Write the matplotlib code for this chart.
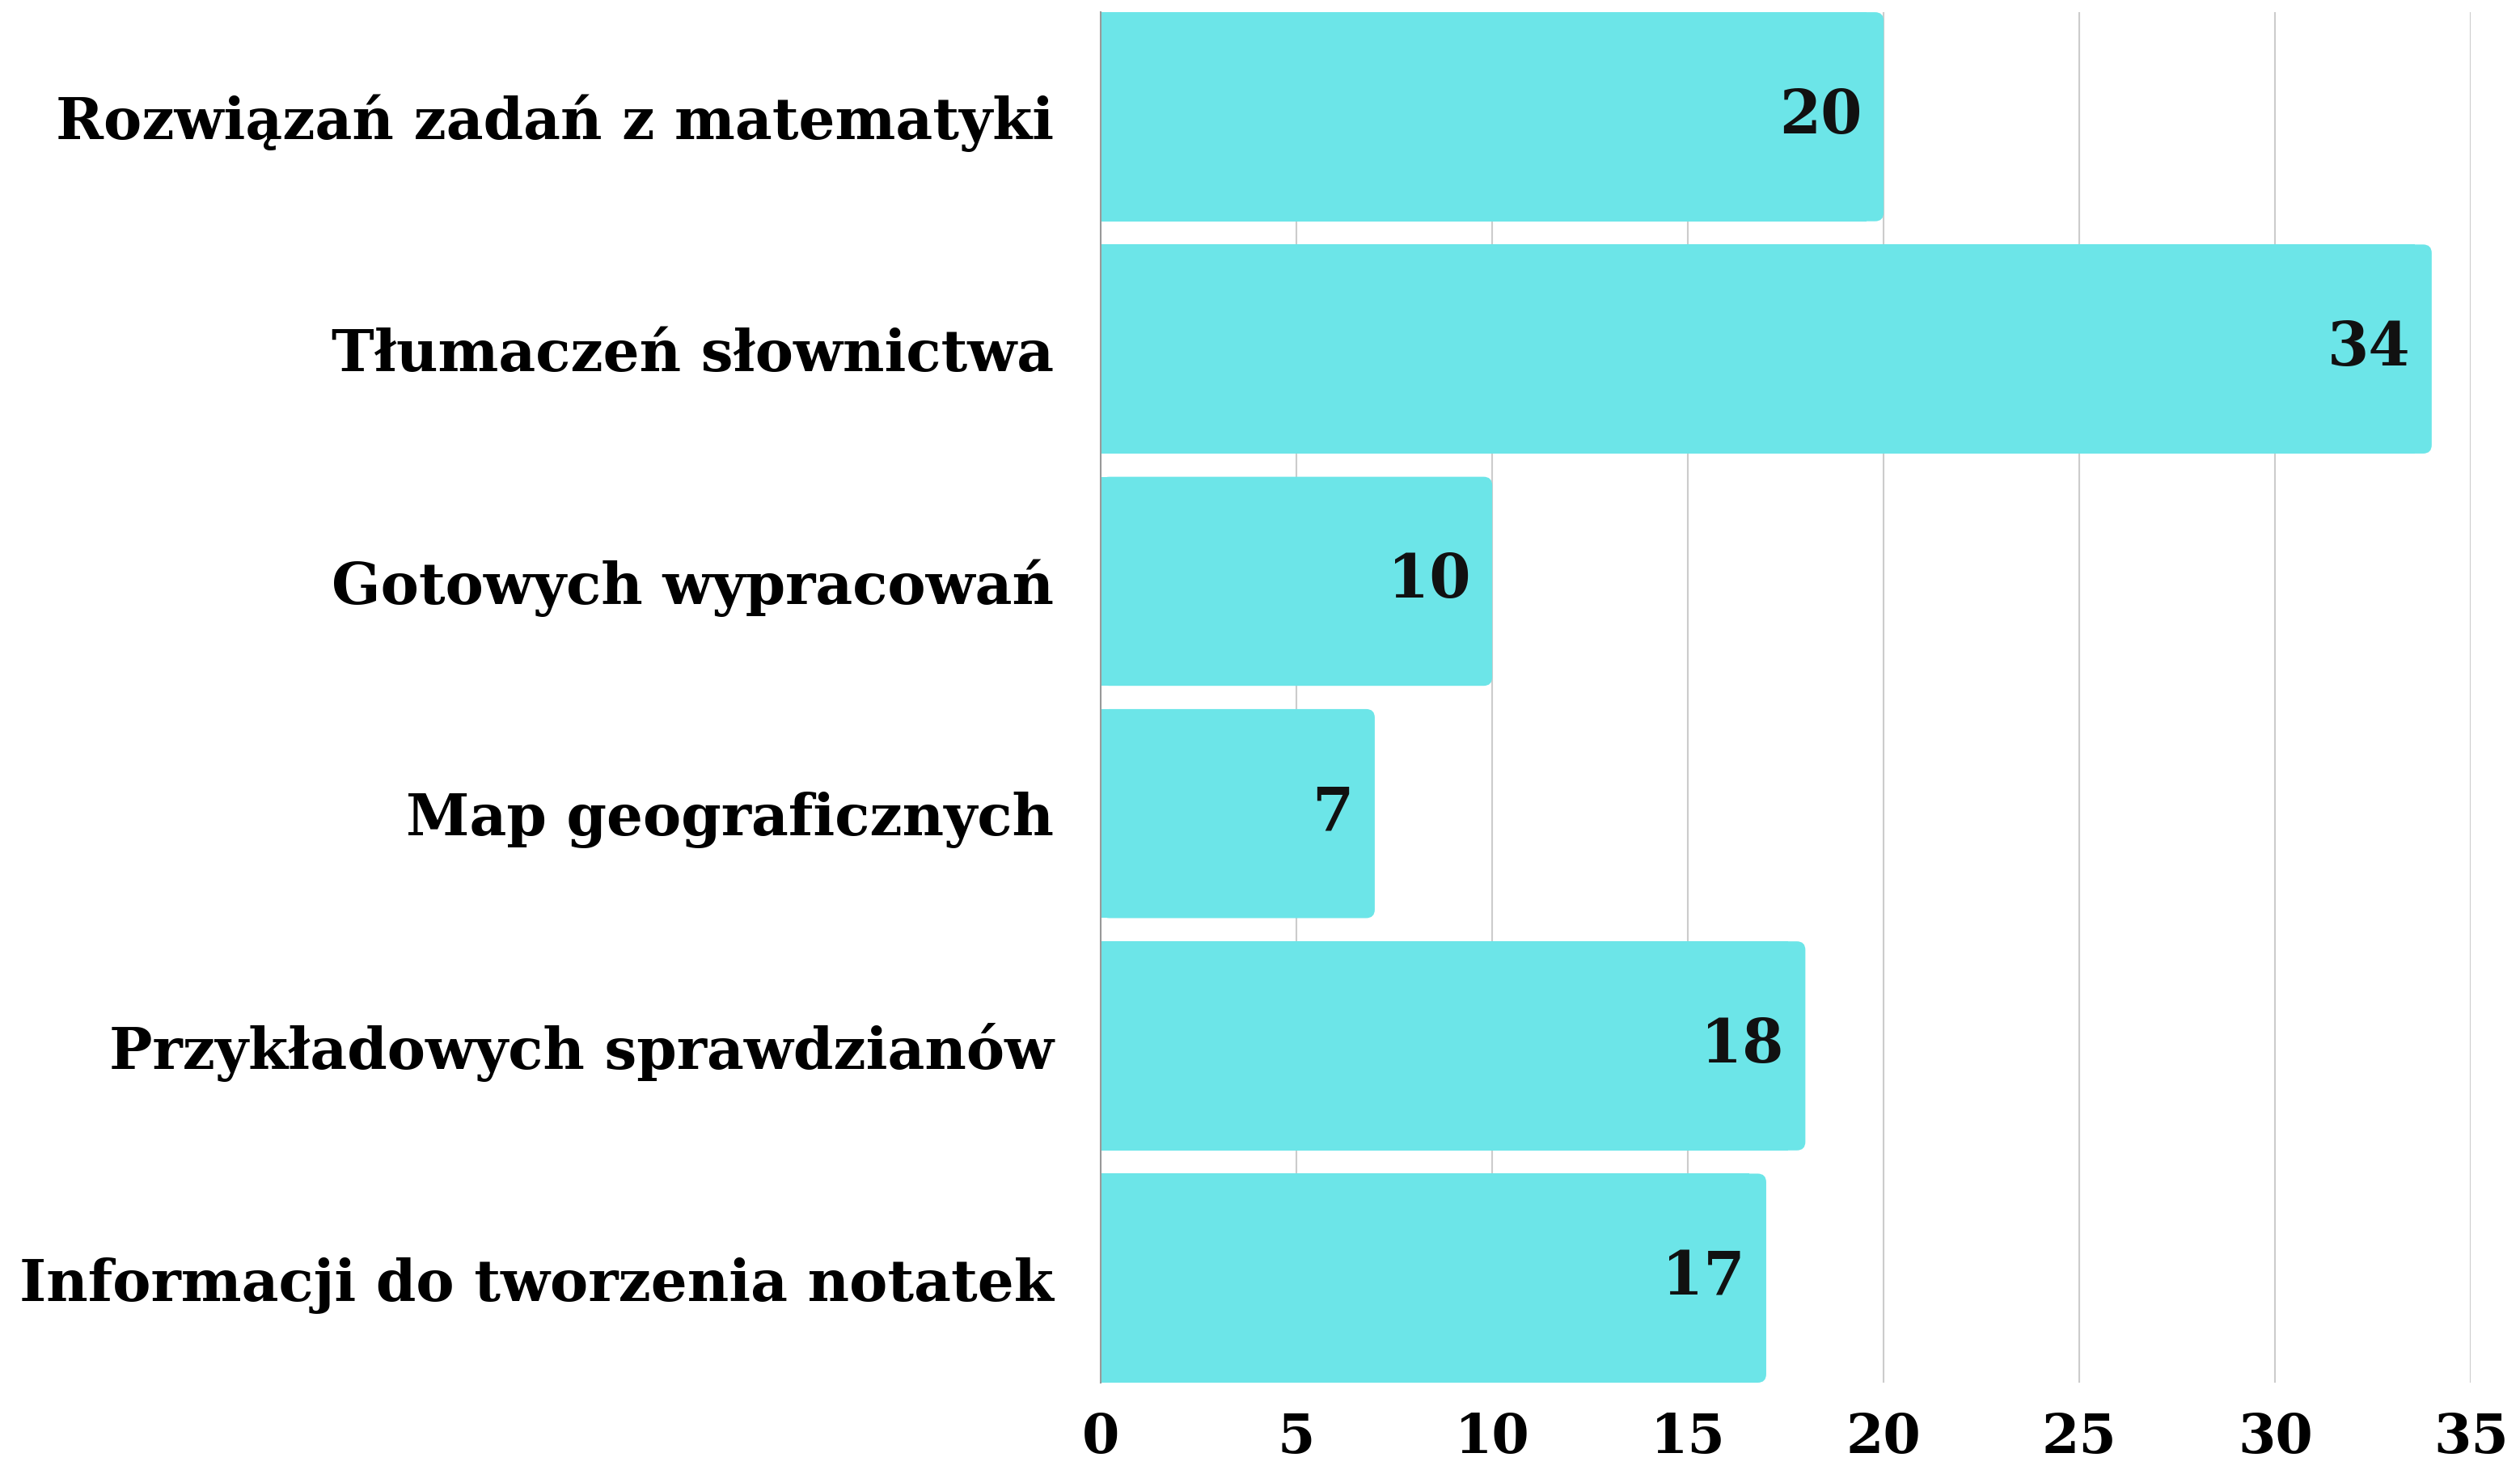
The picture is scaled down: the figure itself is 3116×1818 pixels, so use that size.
import matplotlib
matplotlib.use("Agg")
import matplotlib.pyplot as plt
from matplotlib.patches import FancyBboxPatch

# Data
categories = [
    "Rozwiązań zadań z matematyki",
    "Tłumaczeń słownictwa",
    "Gotowych wypracowań",
    "Map geograficznych",
    "Przykładowych sprawdzianów",
    "Informacji do tworzenia notatek",
]
values = [20, 34, 10, 7, 18, 17]
xticks = [0, 5, 10, 15, 20, 25, 30, 35]

bar_color = "#6ce5e8"
font = "DejaVu Serif"

fig = plt.figure(figsize=(31.16, 18.18), dpi=100)
ax = fig.add_axes([0.4368, 0.0594, 0.9805 - 0.4368, 0.9917 - 0.0594])

ypos = list(range(len(categories)))
bars = ax.barh(ypos, values, height=0.9, color=bar_color, zorder=2)

# rounded right ends (left part stays square)
r = 0.22
asp = (ax.bbox.width / 35) / (ax.bbox.height / 5.9)
for b in bars:
    x0, y0, w, h = b.get_x(), b.get_y(), b.get_width(), b.get_height()
    b.set_width(w - 2 * r)
    rb = FancyBboxPatch((x0, y0), w, h,
                        boxstyle=f"round,pad=0,rounding_size={r}",
                        mutation_aspect=asp,
                        facecolor=bar_color, edgecolor="none", zorder=2)
    ax.add_patch(rb)

for y, v in zip(ypos, values):
    ax.text(v - 0.55, y, str(v), ha="right", va="center",
            fontsize=53, fontweight="bold", family=font, color="#111111", zorder=3)

ax.set_xlim(0, 35)
ax.set_ylim(5.45, -0.45)
ax.set_yticks(ypos)
ax.set_yticklabels(categories, fontsize=51, fontweight="bold", family=font)
ax.set_xticks(xticks)
ax.set_xticklabels([str(t) for t in xticks], fontsize=48, fontweight="bold", family=font)
ax.tick_params(axis="both", length=0)
ax.tick_params(axis="y", pad=42)
ax.tick_params(axis="x", pad=26)

ax.grid(axis="x", color="#cccccc", linewidth=1.5, zorder=0)
ax.set_axisbelow(True)
for s in ["top", "right", "bottom"]:
    ax.spines[s].set_visible(False)
ax.spines["left"].set_color("#999999")
ax.spines["left"].set_linewidth(1.5)

fig.savefig("out.png", dpi=100, facecolor="white")
